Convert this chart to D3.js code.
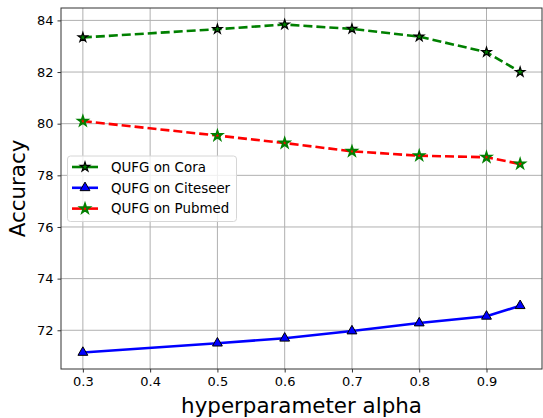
<!DOCTYPE html>
<html><head><meta charset="utf-8">
<script src="https://cdn.jsdelivr.net/npm/d3@7"></script>
<style>body{margin:0;background:#fff}svg{display:block}text{font-family:"DejaVu Sans",sans-serif;fill:#000}</style>
</head><body>
<script>
const alphas = [0.3, 0.5, 0.6, 0.7, 0.8, 0.9, 0.95];
const cora = [83.34, 83.66, 83.84, 83.67, 83.37, 82.77, 82.0];
const citeseer = [71.14, 71.5, 71.69, 71.97, 72.28, 72.54, 72.95];
const pubmed = [80.1, 79.54, 79.25, 78.93, 78.76, 78.7, 78.44];
const xTicks = [0.3, 0.4, 0.5, 0.6, 0.7, 0.8, 0.9];
const yTicks = [72, 74, 76, 78, 80, 82, 84];
const seriesNames = ["QUFG on Cora", "QUFG on Citeseer", "QUFG on Pubmed"];

const W = 543, H = 418;
const L = 61, R = 542, T = 8, B = 369;
const svg = d3.select("body").append("svg").attr("width", W).attr("height", H);

const x = d3.scaleLinear().domain([0.2675, 0.9825]).range([L, R]);
const y = d3.scaleLinear().domain([70.5, 84.48]).range([B, T]);

// grid
const g = svg.append("g");
g.selectAll(".vg").data(xTicks).enter().append("line")
  .attr("x1", d => x(d)).attr("x2", d => x(d)).attr("y1", T).attr("y2", B)
  .attr("stroke", "#b0b0b0").attr("stroke-width", 1);
g.selectAll(".hg").data(yTicks).enter().append("line")
  .attr("y1", d => y(d)).attr("y2", d => y(d)).attr("x1", L).attr("x2", R)
  .attr("stroke", "#b0b0b0").attr("stroke-width", 1);

// axes
const xAxis = d3.axisBottom(x).tickValues(xTicks).tickFormat(d3.format(".1f")).tickSize(3.5).tickPadding(4);
const yAxis = d3.axisLeft(y).tickValues(yTicks).tickFormat(d3.format("d")).tickSize(3.5).tickPadding(4);
const ax = svg.append("g").attr("transform", `translate(0,${B})`).call(xAxis);
const ay = svg.append("g").attr("transform", `translate(${L},0)`).call(yAxis);
[ax, ay].forEach(a => {
  a.select(".domain").remove();
  a.selectAll("text").style("font-size", "13px").style("font-family", "DejaVu Sans").attr("fill", "#000");
  a.selectAll("line").attr("stroke", "#000").attr("stroke-width", 0.8);
});

// frame
svg.append("rect").attr("x", L).attr("y", T).attr("width", R - L).attr("height", B - T)
  .attr("fill", "none").attr("stroke", "#333").attr("stroke-width", 1);

const star = d3.symbol().type(d3.symbolStar).size(28);
const tri = d3.symbol().type(d3.symbolTriangle).size(42);

const series = [
  {name: seriesNames[0], vals: cora, color: "green", dash: "9,4", sym: star, fill: "green", edge: "#000", ew: 1.2},
  {name: seriesNames[1], vals: citeseer, color: "blue", dash: null, sym: tri, fill: "blue", edge: "#000", ew: 1},
  {name: seriesNames[2], vals: pubmed, color: "red", dash: "9,4", sym: star, fill: "red", edge: "green", ew: 1.8}
];

const line = d3.line().x(d => x(d[0])).y(d => y(d[1]));
series.forEach(s => {
  const pts = alphas.map((a, i) => [a, s.vals[i]]);
  svg.append("path").attr("d", line(pts)).attr("fill", "none")
    .attr("stroke", s.color).attr("stroke-width", 2.6)
    .attr("stroke-dasharray", s.dash);
  svg.selectAll(null).data(pts).enter().append("path")
    .attr("d", s.sym).attr("transform", d => `translate(${x(d[0])},${y(d[1])})`)
    .attr("fill", s.fill).attr("stroke", s.edge).attr("stroke-width", s.ew);
});

// legend
const lg = svg.append("g");
lg.append("rect").attr("x", 67.5).attr("y", 156).attr("width", 169).attr("height", 65.5).attr("rx", 3)
  .attr("fill", "rgba(255,255,255,0.8)").attr("stroke", "#d6d6d6").attr("stroke-width", 1);
series.forEach((s, i) => {
  const yy = 167 + i * 20.8;
  lg.append("line").attr("x1", 72).attr("x2", 98).attr("y1", yy).attr("y2", yy)
    .attr("stroke", s.color).attr("stroke-width", 2.6);
  lg.append("path").attr("d", s.sym).attr("transform", `translate(85,${yy})`)
    .attr("fill", s.fill).attr("stroke", s.edge).attr("stroke-width", s.ew);
  lg.append("text").attr("x", 111).attr("y", yy + 4.8).style("font-size", "13.4px").text(s.name);
});

// axis labels
svg.append("text").attr("x", (L + R) / 2).attr("y", 413).attr("text-anchor", "middle")
  .style("font-size", "21.4px").text("hyperparameter alpha");
svg.append("text").attr("transform", `translate(25,${(T + B) / 2}) rotate(-90)`).attr("text-anchor", "middle")
  .style("font-size", "21.4px").text("Accuracy");
</script>
</body></html>
